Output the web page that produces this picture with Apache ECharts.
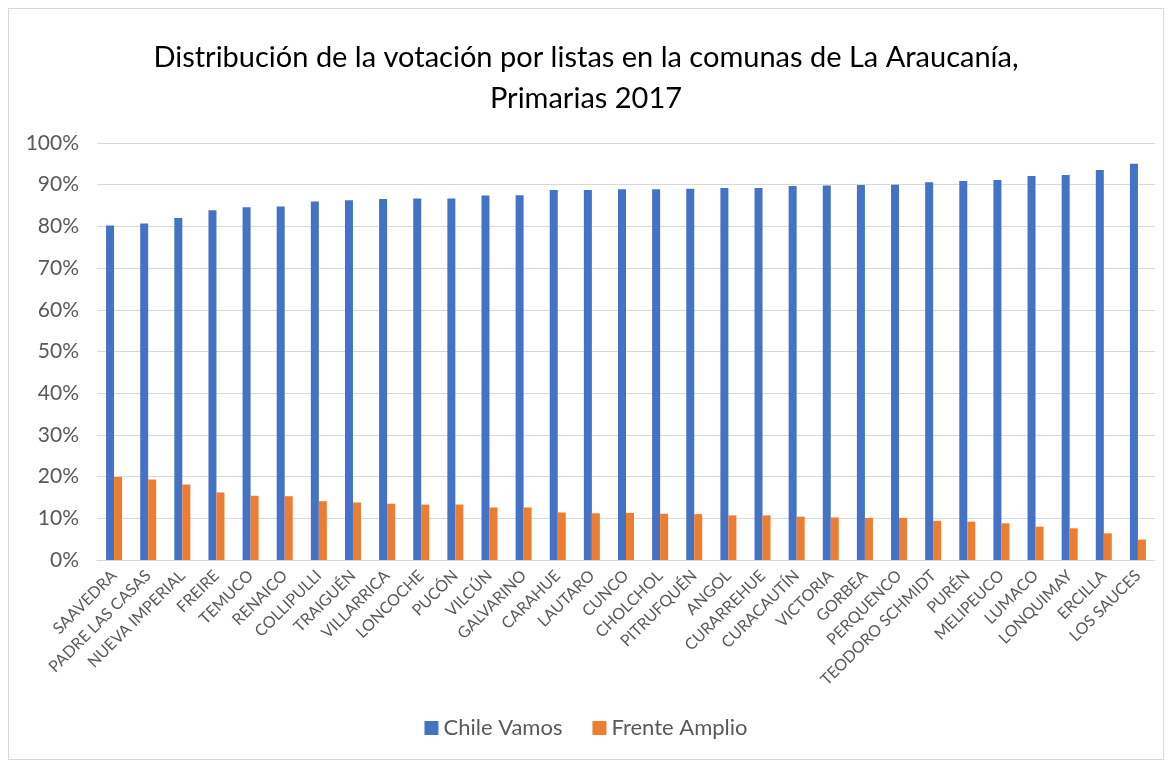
<!DOCTYPE html>
<html>
<head>
<meta charset="utf-8">
<script src="https://cdn.jsdelivr.net/npm/echarts@6/dist/echarts.min.js"></script>
<style>
  html, body { margin: 0; padding: 0; background: #fff; }
  #box { position: absolute; left: 8px; top: 8px; width: 1156px; height: 752px; border: 1px solid #d9d9d9; box-sizing: border-box; }
  #chart { width: 1172px; height: 766px; }
</style>
</head>
<body>
<div id="box"></div>
<div id="chart"></div>
<script>
// comunas, ordenadas por votación de Chile Vamos
var comunas = ['SAAVEDRA', 'PADRE LAS CASAS', 'NUEVA IMPERIAL', 'FREIRE', 'TEMUCO', 'RENAICO',
    'COLLIPULLI', 'TRAIGUÉN', 'VILLARRICA', 'LONCOCHE', 'PUCÓN', 'VILCÚN', 'GALVARINO',
    'CARAHUE', 'LAUTARO', 'CUNCO', 'CHOLCHOL', 'PITRUFQUÉN', 'ANGOL', 'CURARREHUE',
    'CURACAUTÍN', 'VICTORIA', 'GORBEA', 'PERQUENCO', 'TEODORO SCHMIDT', 'PURÉN',
    'MELIPEUCO', 'LUMACO', 'LONQUIMAY', 'ERCILLA', 'LOS SAUCES'];

// porcentajes (0-1)
var chileVamos = [0.802, 0.807, 0.820, 0.839, 0.846, 0.848, 0.860, 0.863, 0.866, 0.867,
    0.867, 0.874, 0.875, 0.887, 0.887, 0.889, 0.889, 0.890, 0.892, 0.892,
    0.897, 0.898, 0.899, 0.900, 0.906, 0.909, 0.911, 0.921, 0.923, 0.935, 0.950];

var frenteAmplio = [0.199, 0.193, 0.181, 0.162, 0.154, 0.153, 0.141, 0.138, 0.135, 0.133,
    0.133, 0.126, 0.126, 0.114, 0.112, 0.113, 0.111, 0.110, 0.107, 0.107,
    0.104, 0.102, 0.101, 0.101, 0.094, 0.092, 0.088, 0.080, 0.076, 0.064, 0.049];

var font = 'Lato, "Open Sans", sans-serif';
var chart = echarts.init(document.getElementById('chart'));

var option = {
    animation: false,
    color: ['#4472C4', '#ED7D31'],
    title: {
        text: 'Distribución de la votación por listas en la comunas de La Araucanía,\nPrimarias 2017',
        left: 'center',
        top: 32,
        textStyle: {
            fontFamily: font,
            fontSize: 29,
            fontWeight: 'normal',
            color: '#000',
            lineHeight: 41
        }
    },
    legend: {
        bottom: 22,
        left: 'center',
        itemWidth: 14,
        itemHeight: 14,
        itemGap: 30,
        icon: 'rect',
        textStyle: { fontFamily: font, fontSize: 22, color: '#595959' },
        data: ['Chile Vamos', 'Frente Amplio']
    },
    grid: {
        left: 97,
        right: 17,
        top: 143,
        bottom: 206
    },
    xAxis: {
        type: 'category',
        data: comunas,
        axisLine: { show: true, lineStyle: { color: '#d9d9d9' } },
        axisTick: { show: false },
        axisLabel: {
            rotate: 45,
            interval: 0,
            margin: 13,
            fontFamily: font,
            fontSize: 16,
            color: '#595959'
        }
    },
    yAxis: {
        type: 'value',
        min: 0,
        max: 1,
        interval: 0.1,
        axisLine: { show: false },
        axisTick: { show: false },
        splitLine: { lineStyle: { color: '#d9d9d9', width: 1 } },
        axisLabel: {
            margin: 18,
            fontFamily: font,
            fontSize: 21,
            color: '#595959',
            formatter: function (v) { return Math.round(v * 100) + '%'; }
        }
    },
    series: [
        {
            name: 'Chile Vamos',
            type: 'bar',
            barWidth: 8,
            barGap: '0%',
            data: chileVamos
        },
        {
            name: 'Frente Amplio',
            type: 'bar',
            barWidth: 8,
            data: frenteAmplio
        }
    ]
};
chart.setOption(option);
</script>
</body>
</html>
